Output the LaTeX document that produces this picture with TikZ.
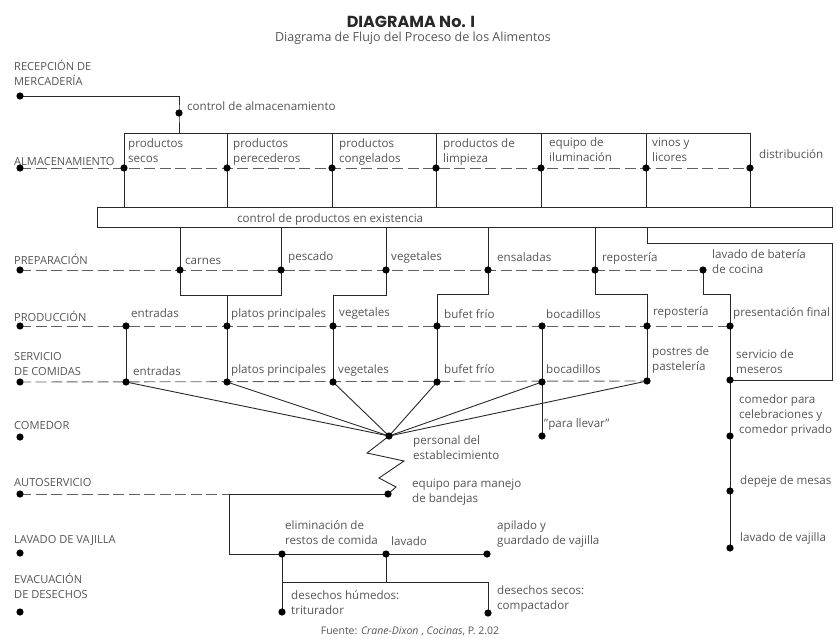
\documentclass[tikz,border=0pt]{standalone}
\usepackage{fontspec}
\setmainfont{Open Sans}
\newfontfamily\headfont{Poppins}
\usetikzlibrary{calc}
\definecolor{inkgray}{RGB}{85,85,85}
\definecolor{linedark}{RGB}{40,40,40}
\definecolor{dashgray}{RGB}{95,95,95}

\begin{document}
\begin{tikzpicture}[
    x=1pt, y=-1pt,
    flow/.style={draw=linedark, line width=0.9pt},
    dashflow/.style={draw=dashgray, line width=0.9pt, dash pattern=on 11pt off 4.5pt},
    lbl/.style={anchor=base west, inner sep=0pt, text=inkgray,
        font=\fontsize{11.6}{15}\selectfont, align=left},
    stagelbl/.style={lbl, font=\fontsize{11.1}{15}\selectfont}
]
\useasboundingbox (0,0) rectangle (837,639);

% =================== Title ===================
\node[anchor=base, inner sep=0pt, text=linedark,
      font=\headfont\bfseries\fontsize{16}{18}\selectfont] (title) at (411,28) {DIAGRAMA No. I};
\node[lbl, anchor=base, font=\fontsize{12.5}{14}\selectfont] (subtitle) at (413,42)
    {Diagrama de Flujo del Proceso de los Alimentos};

% =================== Stages (left column) ===================
\node[stagelbl] (recep) at (14,86) {RECEPCIÓN DE\\MERCADERÍA};
\node[stagelbl] (almac) at (14,165) {ALMACENAMIENTO};
\node[stagelbl] (prepa) at (14,264) {PREPARACIÓN};
\node[stagelbl] (produ) at (14,321) {PRODUCCIÓN};
\node[stagelbl] (servi) at (14,375) {SERVICIO\\DE COMIDAS};
\node[stagelbl] (comed) at (14,429) {COMEDOR};
\node[stagelbl] (autos) at (14,486) {AUTOSERVICIO};
\node[stagelbl] (lavad) at (14,543) {LAVADO DE VAJILLA};
\node[stagelbl] (evacu) at (14,598) {EVACUACIÓN\\DE DESECHOS};

% =================== Junction points ===================
\coordinate (rec) at (20,96);
\coordinate (ctrlA) at (179,113);
\coordinate (stopL) at (124,133);
\coordinate (stopR) at (750,133);
\coordinate (s0) at (20,168);
\foreach \n/\x in {1/124,2/227,3/332,4/436,5/541,6/646,7/750}
    \coordinate (s\n) at (\x,168);
\coordinate (p0) at (20,270);
\foreach \n/\x in {1/180,2/281,3/386,4/488,5/595,6/703}
    \coordinate (p\n) at (\x,270);
\coordinate (r0) at (20,326);
\foreach \n/\x in {1/126,2/227,3/333,4/437,5/542,6/647,7/730}
    \coordinate (r\n) at (\x,326);
\coordinate (c0) at (20,382);
\foreach \n/\x in {1/126,2/227,3/333,4/437,5/542}
    \coordinate (c\n) at (\x,382);
\coordinate (c6) at (647,381);
\coordinate (c7) at (730,380);
\coordinate (cm) at (20,437);
\coordinate (staff) at (389,436);
\coordinate (llevar) at (542,436);
\coordinate (a0) at (20,494);
\coordinate (aj) at (229,494);
\coordinate (tray) at (388,494);
\coordinate (lv0) at (20,553);
\coordinate (wj) at (229,554);
\coordinate (w1) at (282,554);
\coordinate (w2) at (386,554);
\coordinate (w3) at (487,554);
\coordinate (ej) at (386,582);
\coordinate (ev0) at (20,612);
\coordinate (e1) at (282,612);
\coordinate (e2) at (488,613);
\coordinate (m1) at (730,436);
\coordinate (m2) at (730,491);
\coordinate (m3) at (730,548);

% =================== Recepcion / Almacenamiento ===================
\node[draw=linedark, line width=0.9pt, anchor=north west, inner sep=0pt,
      minimum width=735pt, minimum height=20pt] (stock) at (97,207) {};
\node[lbl] (stocktxt) at (237,222) {control de productos en existencia};

\draw[flow] (rec) -| (ctrlA) -- (ctrlA |- stopL);
\draw[flow] (stopL) -- (stopR);
\foreach \n in {1,...,7}
    \draw[flow] (s\n |- stopL) -- (s\n |- stock.north);
\draw[dashflow] (s0) -- (s7);

\node[lbl] (ctrltxt) at (187,111) {control de almacenamiento};
\node[lbl] (secos) at (128,163) {productos\\secos};
\node[lbl] (pere) at (233,163) {productos\\perecederos};
\node[lbl] (cong) at (339,163) {productos\\congelados};
\node[lbl] (limp) at (443,163) {productos de\\limpieza};
\node[lbl] (ilum) at (549,162) {equipo de\\iluminación};
\node[lbl] (vinos) at (652,162) {vinos y\\licores};
\node[lbl] (distr) at (759,159) {distribución};

% =================== Preparacion ===================
\foreach \n in {1,...,5}
    \draw[flow] (p\n |- stock.south) -- (p\n);
\draw[flow] (647,227) -- (647,243) -- (832,243) -- (832,380) -- (c7);
\draw[dashflow] (p0) -- (p6);

\node[lbl] (carnes) at (185,264) {carnes};
\node[lbl] (pesc) at (288,260) {pescado};
\node[lbl] (vegp) at (391,260) {vegetales};
\node[lbl] (ensal) at (497,261) {ensaladas};
\node[lbl] (repp) at (602,261) {repostería};
\node[lbl] (bater) at (712,273) {lavado de batería\\de cocina};

% =================== Produccion ===================
\draw[flow] (p1) -- ++(0,25) -| (p2);
\draw[flow] (r2 |- 0,295) -- (r2);
\draw[flow] (p3) -- ++(0,25) -| (r3);
\draw[flow] (p4) -- ++(0,24) -| (r4);
\draw[flow] (p5) -- ++(0,24) -| (r6);
\draw[flow] (p6) -- ++(0,24) -| (r7);
\draw[dashflow] (r0) -- (r7);

\node[lbl] (entp) at (131,317) {entradas};
\node[lbl] (platp) at (231,317) {platos principales};
\node[lbl] (vegr) at (339,316) {vegetales};
\node[lbl] (bufp) at (444,318) {bufet frío};
\node[lbl] (bocp) at (546,318) {bocadillos};
\node[lbl] (repr) at (653,315) {repostería};
\node[lbl] (pres) at (733,316) {presentación final};

% =================== Servicio de comidas ===================
\foreach \n in {1,...,7}
    \draw[flow] (r\n) -- (c\n);
\draw[dashflow] (c0) -- (c6);
\foreach \n in {1,...,6}
    \draw[flow] (c\n) -- (staff);
\draw[flow] (c5) -- (llevar);
\draw[flow] (c7) -- (m1) -- (m2) -- (m3);

\node[lbl] (ents) at (133,375) {entradas};
\node[lbl] (plats) at (231,373) {platos principales};
\node[lbl] (vegs) at (338,373) {vegetales};
\node[lbl] (bufs) at (444,373) {bufet frío};
\node[lbl] (bocs) at (546,373) {bocadillos};
\node[lbl] (postr) at (652,370) {postres de\\pastelería};
\node[lbl] (meser) at (736,373) {servicio de\\meseros};

% =================== Comedor / Autoservicio ===================
\draw[flow] (staff) -- (367,453) -- (404,461) -- (379,478) -- (396,487) -- (tray);
\draw[dashflow] (a0) -- (aj);
\draw[flow] (aj) -- (tray);

\node[lbl] (llevtxt) at (544,427) {"para llevar"};
\node[lbl] (stafftxt) at (413,459) {personal del\\establecimiento};
\node[lbl] (traytxt) at (412,502) {equipo para manejo\\de bandejas};
\node[lbl] (privtxt) at (739,433) {comedor para\\celebraciones y\\comedor privado};
\node[lbl] (mesas) at (740,484) {depeje de mesas};
\node[lbl] (vajr) at (740,541) {lavado de vajilla};

% =================== Lavado / Evacuacion ===================
\draw[flow] (aj) -- (wj) -- (w3);
\draw[flow] (w1) -- (e1);
\draw[flow] (w2) -- (ej);
\draw[flow] (e1 |- ej) -- (e2 |- ej) -- (e2);

\node[lbl] (restos) at (285,544) {eliminación de\\restos de comida};
\node[lbl] (lavtxt) at (391,545) {lavado};
\node[lbl] (apil) at (497,544) {apilado y\\guardado de vajilla};
\node[lbl] (humed) at (291,614) {desechos húmedos:\\triturador};
\node[lbl] (secos2) at (497,609) {desechos secos:\\compactador};

% =================== Dots ===================
\foreach \p in {rec,ctrlA,s0,s1,s2,s3,s4,s5,s6,s7,
                p0,p1,p2,p3,p4,p5,p6,
                r0,r1,r2,r3,r4,r5,r6,r7,
                c0,c1,c2,c3,c4,c5,c6,c7,
                cm,staff,llevar,a0,tray,lv0,w1,w2,w3,
                ev0,e1,e2,m1,m2,m3}
    \fill[black] (\p) circle (3.6pt);

% =================== Source ===================
\node[lbl, anchor=base, font=\fontsize{10.5}{12}\selectfont] (source) at (410,634)
    {Fuente: \textit{Crane-Dixon} , \textit{Cocinas}, P. 2.02};

\end{tikzpicture}
\end{document}
